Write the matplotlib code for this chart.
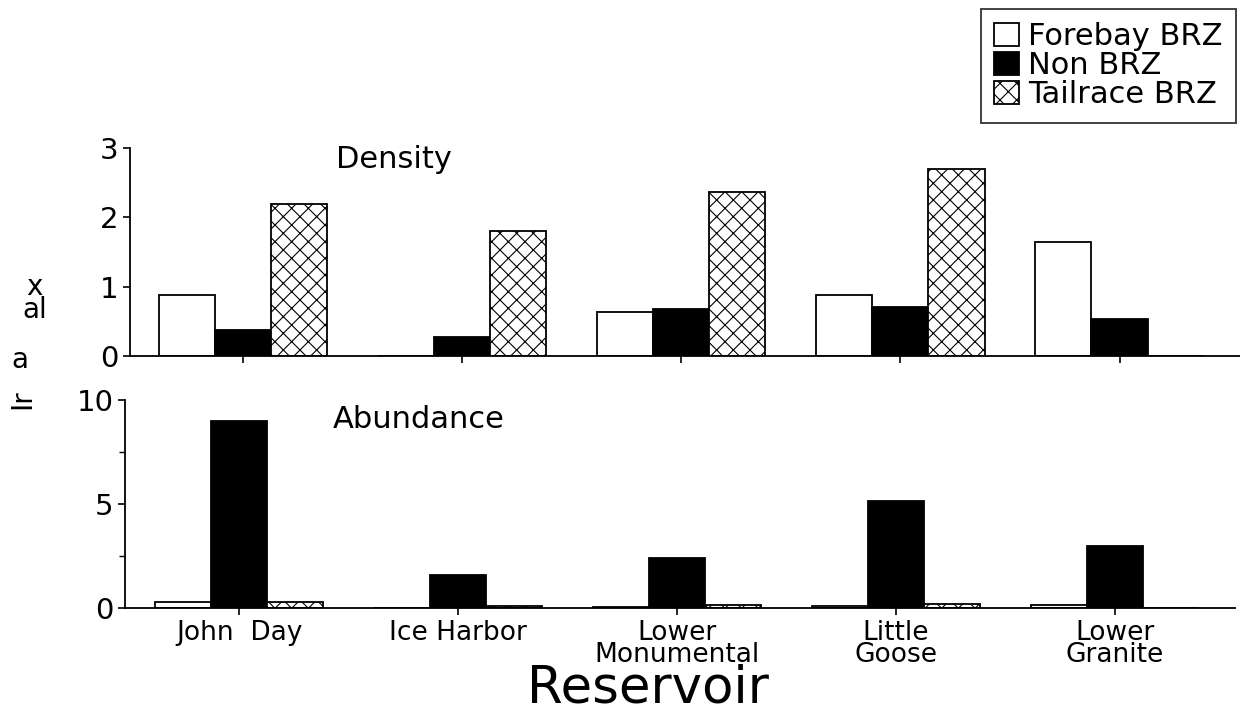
import numpy as np
import matplotlib.pyplot as plt
import matplotlib.ticker as mticks

plt.switch_backend('agg')
plt.rcParams['font.family'] = ['DejaVu Sans']
plt.rcParams['hatch.linewidth'] = 0.8

reservoirs = ['John  Day', 'Ice Harbor', 'Lower\nMonumental', 'Little\nGoose', 'Lower\nGranite']
series = ['Forebay BRZ', 'Non BRZ', 'Tailrace BRZ']

# Density
dens_forebay = [0.88, 0.0, 0.63, 0.88, 1.64]
dens_non = [0.38, 0.28, 0.67, 0.70, 0.53]
dens_tailrace = [2.20, 1.81, 2.37, 2.70, 0.0]

# Abundance
abun_forebay = [0.30, 0.0, 0.05, 0.10, 0.15]
abun_non = [9.0, 1.6, 2.4, 5.15, 3.0]
abun_tailrace = [0.30, 0.10, 0.15, 0.20, 0.0]

x = np.arange(len(reservoirs))
w = 0.256
styles = [dict(facecolor='white', hatch=None),
          dict(facecolor='black', hatch=None),
          dict(facecolor='white', hatch='xx')]

fig = plt.figure(figsize=(12.4, 7.19), dpi=100)
ax1 = fig.add_axes([0.105, 0.505, 0.895, 0.289])
ax2 = fig.add_axes([0.101, 0.154, 0.895, 0.289])


def draw(ax, vals):
    bars = []
    for i, (v, st) in enumerate(zip(vals, styles)):
        b = ax.bar(x + (i - 1) * w, v, w, edgecolor='black', linewidth=1.3,
                   label=series[i], **st)
        bars.append(b)
    for s in ['top', 'right']:
        ax.spines[s].set_visible(False)
    ax.spines['left'].set_linewidth(1.3)
    ax.spines['bottom'].set_linewidth(1.3)
    ax.set_xticks(x)
    ax.tick_params(axis='both', direction='out', length=5, width=1.2, labelsize=21)
    return bars


bars = draw(ax1, [dens_forebay, dens_non, dens_tailrace])
draw(ax2, [abun_forebay, abun_non, abun_tailrace])

ax1.set_xlim(-0.516, 4.55)
ax1.set_ylim(0, 3)
ax1.set_yticks([0, 1, 2, 3])
ax1.set_xticklabels([])
ax1.text(0.69, 2.84, 'Density', fontsize=22, ha='center', va='center')

ax2.set_xlim(-0.52, 4.55)
ax2.set_ylim(0, 10)
ax2.set_yticks([0, 5, 10])
ax2.yaxis.set_minor_locator(mticks.MultipleLocator(2.5))
ax2.tick_params(axis='y', which='minor', direction='out', length=4, width=1.0)
ax2.set_xticklabels(reservoirs, fontsize=19, linespacing=0.78)
ax2.text(0.82, 9.1, 'Abundance', fontsize=22, ha='center', va='center')
ax2.set_xlabel('Reservoir', fontsize=37)
ax2.xaxis.set_label_coords(0.471, -0.265)

# garbled y label fragments
fig.text(0.028, 0.585, 'x\nal', fontsize=20, ha='center', va='center',
         linespacing=0.75)
fig.text(0.016, 0.500, 'a', fontsize=20, ha='center', va='center')
fig.text(0.018, 0.445, 'Ir', fontsize=20, ha='center', va='center', rotation=90)

leg = fig.legend(handles=bars, labels=series, loc='upper right',
                 bbox_to_anchor=(0.997, 0.988), fontsize=22, frameon=True,
                 fancybox=False, edgecolor='black', handlelength=0.8,
                 handleheight=0.8, handletextpad=0.3, labelspacing=0.0,
                 borderpad=0.45, borderaxespad=0.0)
leg.get_frame().set_linewidth(1.3)

fig.savefig('out.png', dpi=100)
